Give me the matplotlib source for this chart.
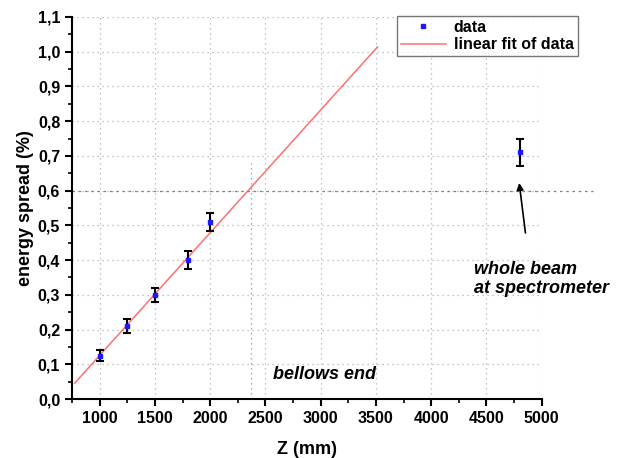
import numpy as np
import matplotlib
matplotlib.use("Agg")
import matplotlib.pyplot as plt
from matplotlib.ticker import MultipleLocator, FuncFormatter

# ---- data ----
z_mm       = [1000, 1250, 1500, 1800, 2000, 4800]
spread_pct = [0.125, 0.21, 0.30, 0.40, 0.51, 0.71]
spread_err = [0.016, 0.021, 0.021, 0.025, 0.027, 0.040]

# linear fit of the first five points, as drawn
fit_slope     = 0.0003534
fit_intercept = -0.228
fit_z_range   = [775, 3514]

bellows_end_z = 2370
ref_level     = 0.6

plt.rcParams["font.family"] = ["Liberation Sans", "DejaVu Sans"]
plt.rcParams["font.weight"] = "bold"

fig = plt.figure(figsize=(6.17, 4.58), dpi=100)
ax = fig.add_axes([0.1167, 0.1288, 0.7613, 0.8341])

ax.set_xlim(750, 5000)
ax.set_ylim(0.0, 1.1)

# grid
ax.xaxis.set_major_locator(MultipleLocator(500))
ax.xaxis.set_minor_locator(MultipleLocator(250))
ax.yaxis.set_major_locator(MultipleLocator(0.1))
ax.yaxis.set_minor_locator(MultipleLocator(0.05))
ax.grid(True, which="major", ls=(0, (1, 3)), color="#b0b0b0", lw=0.9)

# special marker lines
ax.axhline(ref_level, xmin=0, xmax=1.11, ls=(0, (2, 3)), color="#808080",
           lw=0.9, clip_on=False)
ax.plot([bellows_end_z, bellows_end_z], [0, 0.68], ls=(0, (1, 3)),
        color="#909090", lw=0.9)

# fit line
fz = np.array(fit_z_range, dtype=float)
ax.plot(fz, fit_slope * fz + fit_intercept, color="#ff7070", lw=1.1,
        label="linear fit of data", zorder=3)

# data with error bars
ax.errorbar(z_mm, spread_pct, yerr=spread_err, fmt="none", ecolor="black",
            elinewidth=1.5, capsize=3, capthick=1.5, zorder=4)
ax.plot(z_mm, spread_pct, ls="none", marker="s", ms=3.5, color="#1a1aff",
        mec="#1a1aff", label="data", zorder=5)

# axes styling
for side in ("top", "right"):
    ax.spines[side].set_visible(False)
for side in ("left", "bottom"):
    ax.spines[side].set_linewidth(1.5)
ax.tick_params(which="major", direction="out", length=5, width=1.5,
               labelsize=11.5)
ax.tick_params(which="minor", direction="out", length=3, width=1.2)
ax.yaxis.set_major_formatter(FuncFormatter(lambda v, p: f"{v:.1f}".replace(".", ",")))
for lab in ax.get_xticklabels() + ax.get_yticklabels():
    lab.set_fontweight("bold")

ax.set_xlabel("Z (mm)", fontsize=13, fontweight="bold", labelpad=11)
ax.set_ylabel("energy spread (%)", fontsize=13, fontweight="bold", labelpad=3)

# annotations
ax.text(2570, 0.07, "bellows end", fontsize=13, fontweight="bold",
        style="italic", ha="left", va="center")
ax.annotate("", xy=(4793, 0.63), xytext=(4856, 0.47),
            arrowprops=dict(arrowstyle="-|>", color="black", lw=1.2,
                            mutation_scale=10))
ax.text(4390, 0.345, "whole beam\nat spectrometer", fontsize=13,
        fontweight="bold", style="italic", ha="left", va="center",
        linespacing=1.2, clip_on=False)

# legend
handles, labels = ax.get_legend_handles_labels()
leg = fig.legend(handles[::-1], labels[::-1], loc="upper left",
                 bbox_to_anchor=(397 / 617, 1 - 16 / 458), fontsize=11.5,
                 frameon=True, fancybox=False, edgecolor="#555555",
                 handlelength=2.8, borderpad=0.25, labelspacing=0.15,
                 handletextpad=0.5, borderaxespad=0)
leg.get_frame().set_linewidth(1.0)
for t in leg.get_texts():
    t.set_fontweight("bold")

fig.savefig("out.png", dpi=100)
